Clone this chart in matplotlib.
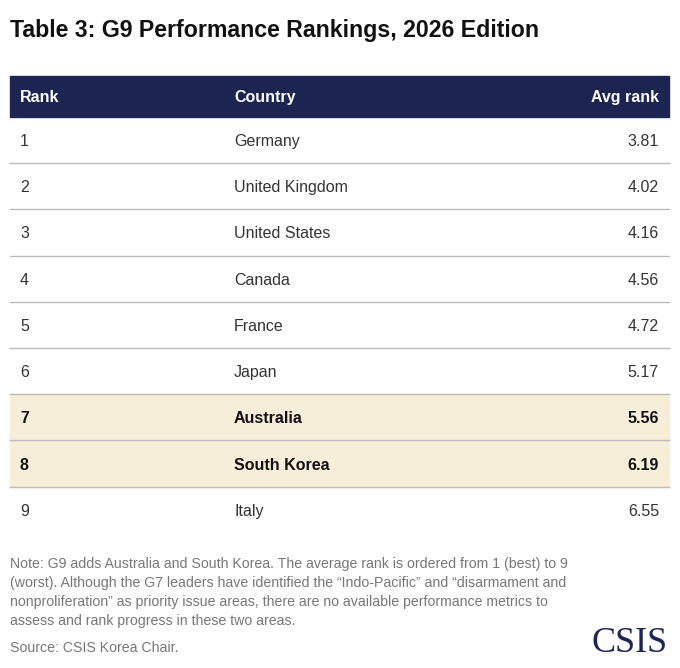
import matplotlib
matplotlib.use("Agg")
import matplotlib.pyplot as plt
from matplotlib.patches import Rectangle

ranks = [1, 2, 3, 4, 5, 6, 7, 8, 9]
countries = ["Germany", "United Kingdom", "United States", "Canada", "France",
             "Japan", "Australia", "South Korea", "Italy"]
avg_rank = [3.81, 4.02, 4.16, 4.56, 4.72, 5.17, 5.56, 6.19, 6.55]
highlight = ["Australia", "South Korea"]

navy = "#1c2552"
beige = "#f7eed9"
text_col = "#333333"
grey = "#777777"

plt.rcParams["font.family"] = ["Liberation Sans", "DejaVu Sans"]

fig = plt.figure(figsize=(6.8, 6.68), dpi=100)
ax = fig.add_axes([0, 0, 1, 1])
ax.set_xlim(0, 680)
ax.set_ylim(668, 0)
ax.axis("off")

ax.text(10, 30, "Table 3: G9 Performance Rankings, 2026 Edition", fontsize=16.7,
        fontweight="bold", color="#111111", va="center")

# header
top, hh, rh = 76, 41, 46.2
ax.add_patch(Rectangle((10, top), 659, hh, color=navy))
hy = top + hh / 2 + 1
ax.text(20, hy, "Rank", color="white", fontsize=11.5, fontweight="bold", va="center")
ax.text(234, hy, "Country", color="white", fontsize=11.5, fontweight="bold", va="center")
ax.text(659, hy, "Avg rank", color="white", fontsize=11.5, fontweight="bold", va="center", ha="right")

for i, (r, c, v) in enumerate(zip(ranks, countries, avg_rank)):
    y0 = top + hh + i * rh
    hl = c in highlight
    if hl:
        ax.add_patch(Rectangle((10, y0), 659, rh, color=beige, zorder=0))
    if i < len(ranks) - 1:
        ax.plot([10, 669], [y0 + rh, y0 + rh], color="#bbbbbb", lw=1)
    yc = y0 + rh / 2 + 1.5
    fw = "bold" if hl else "normal"
    col = "#111111" if hl else text_col
    ax.text(20, yc, str(r), fontsize=11.5, va="center", fontweight=fw, color=col)
    ax.text(234, yc, c, fontsize=11.5, va="center", fontweight=fw, color=col)
    ax.text(659, yc, f"{v:.2f}", fontsize=11.5, va="center", ha="right", fontweight=fw, color=col)

note = ("Note: G9 adds Australia and South Korea. The average rank is ordered from 1 (best) to 9\n"
        "(worst). Although the G7 leaders have identified the \u201cIndo-Pacific\u201d and \u201cdisarmament and\n"
        "nonproliferation\u201d as priority issue areas, there are no available performance metrics to\n"
        "assess and rank progress in these two areas.")
ax.text(10, 557, note, fontsize=10.2, color=grey, va="top", linespacing=1.45)
ax.text(10, 648, "Source: CSIS Korea Chair.", fontsize=10.2, color=grey, va="center")
ax.text(668, 643, "CSIS", fontsize=26, color=navy, family="Liberation Serif",
        ha="right", va="center")

fig.savefig("out.png", dpi=100)
